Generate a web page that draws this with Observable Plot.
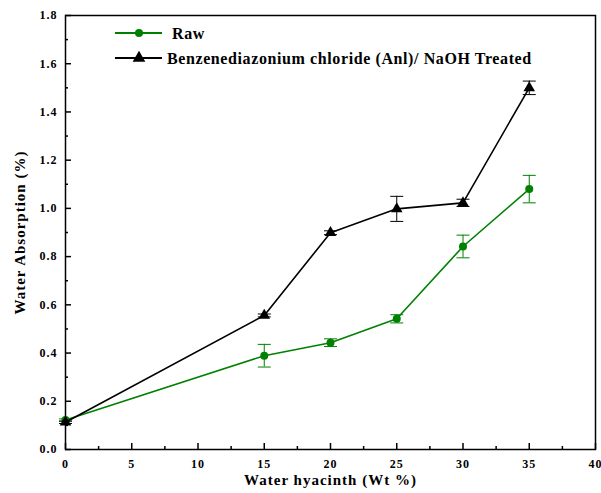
<!DOCTYPE html>
<html><head><meta charset="utf-8">
<script src="https://cdn.jsdelivr.net/npm/d3@7"></script>
<script src="https://cdn.jsdelivr.net/npm/@observablehq/plot@0.6"></script>
<style>
body{margin:0;background:#fff;}
#chart{position:relative;width:601px;height:493px;}
#chart svg text{font-family:"Liberation Serif", serif !important;}
</style></head>
<body><div id="chart"></div>
<script>
const xs = [0, 15, 20, 25, 30, 35];
const rawY = [0.122, 0.389, 0.443, 0.542, 0.842, 1.080];
const rawErr = [0.005, 0.047, 0.016, 0.017, 0.047, 0.057];
const trtY = [0.113, 0.556, 0.899, 0.998, 1.023, 1.500];
const trtErr = [0.005, 0.006, 0.008, 0.052, 0.015, 0.028];
const xTicks = [0, 5, 10, 15, 20, 25, 30, 35, 40];
const yTicks = [0, 0.2, 0.4, 0.6, 0.8, 1.0, 1.2, 1.4, 1.6, 1.8];
const xMinor = [2.5, 7.5, 12.5, 17.5, 22.5, 27.5, 32.5, 37.5];
const yMinor = [0.1, 0.3, 0.5, 0.7, 0.9, 1.1, 1.3, 1.5, 1.7];
const seriesNames = ["Raw", "Benzenediazonium chloride (Anl)/ NaOH Treated"];
const colors = ["#008000", "#000000"];

const raw = xs.map((x, i) => ({x, y: rawY[i], e: rawErr[i]}));
const trt = xs.map((x, i) => ({x, y: trtY[i], e: trtErr[i]}));

const capSymbol = {draw(ctx, size) { const r = Math.sqrt(size / Math.PI); ctx.moveTo(-r, 0); ctx.lineTo(r, 0); }};

const plot = Plot.plot({
  width: 601, height: 493,
  marginLeft: 65, marginRight: 6, marginTop: 15, marginBottom: 44,
  style: {fontFamily: "Liberation Serif", background: "#fff", color: "#000"},
  x: {domain: [0, 40]},
  y: {domain: [0, 1.8]},
  marks: [
    Plot.axisY(yTicks, {tickSize: -6, tickPadding: 14, tickFormat: d3.format(".1f"), fontSize: 12, fontWeight: "bold", strokeWidth: 1.5, label: null}),
    Plot.axisY(yMinor, {tickSize: -3, text: null, strokeWidth: 1.5, label: null}),
    Plot.axisX(xTicks, {tickSize: -6, tickPadding: 16, fontSize: 12, fontWeight: "bold", strokeWidth: 1.5, label: null}),
    Plot.axisX(xMinor, {tickSize: -3, text: null, strokeWidth: 1.5, label: null}),
    Plot.frame({strokeWidth: 1.5}),
    // raw series
    Plot.line(raw, {x: "x", y: "y", stroke: colors[0], strokeWidth: 1.6}),
    Plot.ruleX(raw, {x: "x", y1: d => d.y - d.e, y2: d => d.y + d.e, stroke: colors[0], strokeWidth: 1}),
    Plot.dot(raw, {x: "x", y: d => d.y - d.e, symbol: capSymbol, r: 6.5, stroke: colors[0], strokeWidth: 1}),
    Plot.dot(raw, {x: "x", y: d => d.y + d.e, symbol: capSymbol, r: 6.5, stroke: colors[0], strokeWidth: 1}),
    Plot.dot(raw, {x: "x", y: "y", r: 4, fill: colors[0], stroke: "none"}),
    // treated series
    Plot.line(trt, {x: "x", y: "y", stroke: colors[1], strokeWidth: 1.6}),
    Plot.ruleX(trt, {x: "x", y1: d => d.y - d.e, y2: d => d.y + d.e, stroke: colors[1], strokeWidth: 1}),
    Plot.dot(trt, {x: "x", y: d => d.y - d.e, symbol: capSymbol, r: 6.5, stroke: colors[1], strokeWidth: 1}),
    Plot.dot(trt, {x: "x", y: d => d.y + d.e, symbol: capSymbol, r: 6.5, stroke: colors[1], strokeWidth: 1}),
    Plot.dot(trt, {x: "x", y: "y", r: 4.3, symbol: "triangle", fill: colors[1], stroke: "none"}),
    // axis titles
    Plot.text(["Water hyacinth (Wt %)"], {frameAnchor: "bottom", dy: 35, fontSize: 15, fontWeight: "bold"}),
    Plot.text(["Water Absorption (%)"], {frameAnchor: "left", textAnchor: "middle", dx: -45, rotate: -90, fontSize: 15, fontWeight: "bold"})
  ]
});
document.getElementById("chart").appendChild(plot);

const svg = d3.select(plot);
// legend inside plot
const lg = svg.append("g").attr("font-weight", "bold").attr("font-size", 16).attr("text-anchor", "start");
const rows = [33, 58];
seriesNames.forEach((name, i) => {
  const y = rows[i];
  lg.append("line").attr("x1", 115).attr("x2", 162).attr("y1", y).attr("y2", y).attr("stroke", colors[i]).attr("stroke-width", 1.8);
  if (i === 0) lg.append("circle").attr("cx", 139).attr("cy", y).attr("r", 4).attr("fill", colors[i]);
  else lg.append("path").attr("d", d3.symbol(d3.symbolTriangle, 70)()).attr("transform", `translate(139,${y})`).attr("fill", colors[i]);
  lg.append("text").attr("class", "lgt").attr("x", i === 0 ? 172 : 167).attr("y", y).attr("dy", "0.35em").attr("fill", "#000").text(name);
});

svg.selectAll("[aria-label^='y-axis tick label'] text, [aria-label^='x-axis tick label'] text").style("letter-spacing", "1px");
svg.selectAll("text.lgt").style("letter-spacing", "0.6px");
svg.selectAll("[aria-label='text'] text").style("letter-spacing", "1px");
</script></body></html>
